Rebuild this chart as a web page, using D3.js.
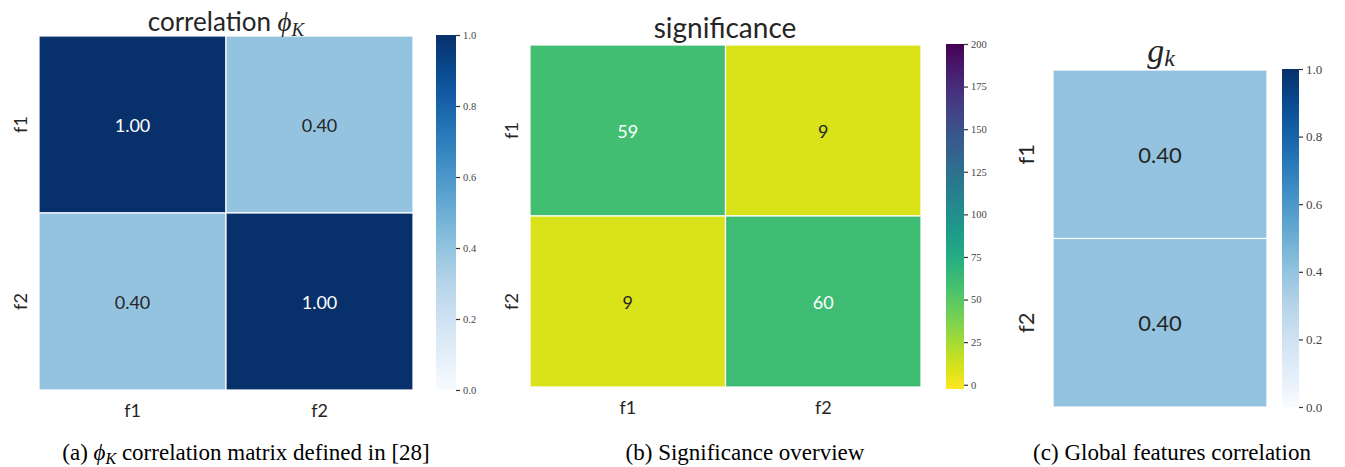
<!DOCTYPE html>
<html><head><meta charset="utf-8">
<script src="https://cdn.jsdelivr.net/npm/d3@7"></script>
<style>body{margin:0;background:#fff}</style>
</head><body>
<svg id="c" width="1345" height="467"></svg>
<script>
const features = ["f1", "f2"];
const phikValues = [[1.00, 0.40], [0.40, 1.00]];
const sigValues = [[59, 9], [9, 60]];
const gkValues = [[0.40], [0.40]];
const blueTicks = [0.0, 0.2, 0.4, 0.6, 0.8, 1.0];
const sigTicks = [0, 25, 50, 75, 100, 125, 150, 175, 200];
const phikLabels = ["1.00", "0.40", "0.40", "1.00"];
const sigLabels = ["59", "9", "9", "60"];
const gkLabels = ["0.40", "0.40"];

const svg = d3.select("#c");
const sans = "Lato, 'Open Sans', sans-serif";
const serif = "'Liberation Serif', 'DejaVu Serif', serif";

function heatmap(opt) {
  const g = svg.append("g");
  const x = d3.scaleBand().domain(opt.cols).range([opt.x0, opt.x1]);
  const y = d3.scaleBand().domain(features).range([opt.y0, opt.y1]);
  const cells = [];
  opt.values.forEach((row, i) => row.forEach((v, j) => cells.push({r: features[i], c: opt.cols[j], v, lab: opt.labels[cells.length]})));
  g.selectAll("rect").data(cells).join("rect")
    .attr("x", d => x(d.c)).attr("y", d => y(d.r))
    .attr("width", x.bandwidth()).attr("height", y.bandwidth())
    .attr("fill", d => opt.color(d.v)).attr("stroke", "#fff").attr("stroke-width", 1.2);
  g.selectAll("text.v").data(cells).join("text").attr("class", "v")
    .attr("x", d => x(d.c) + x.bandwidth() / 2).attr("y", d => y(d.r) + y.bandwidth() / 2)
    .attr("text-anchor", "middle").attr("dominant-baseline", "central")
    .attr("font-family", sans).attr("font-size", opt.fs)
    .attr("fill", d => opt.dark(d.v) ? "#fff" : "#262626").text(d => d.lab);
  g.selectAll("text.yl").data(features).join("text").attr("class", "yl")
    .attr("transform", d => `translate(${opt.ylx},${y(d) + y.bandwidth() / 2}) rotate(-90)`)
    .attr("text-anchor", "middle").attr("dominant-baseline", "central")
    .attr("font-family", sans).attr("font-size", opt.tfs).attr("fill", "#262626").text(d => d);
  if (opt.bottom) {
    g.selectAll("text.xl").data(opt.cols).join("text").attr("class", "xl")
      .attr("x", d => x(d) + x.bandwidth() / 2).attr("y", opt.y1 + 20)
      .attr("text-anchor", "middle").attr("dominant-baseline", "central")
      .attr("font-family", sans).attr("font-size", opt.tfs).attr("fill", "#262626").text(d => d);
  }
}

function colorbar(opt) {
  const id = "grad" + opt.id;
  const defs = svg.append("defs");
  const lg = defs.append("linearGradient").attr("id", id).attr("x1", 0).attr("y1", 1).attr("x2", 0).attr("y2", 0);
  d3.range(0, 1.0001, 0.05).forEach(t => {
    lg.append("stop").attr("offset", t).attr("stop-color", opt.color(opt.domain[0] + t * (opt.domain[1] - opt.domain[0])));
  });
  svg.append("rect").attr("x", opt.x).attr("y", opt.y0).attr("width", opt.w).attr("height", opt.y1 - opt.y0).attr("fill", `url(#${id})`);
  const s = d3.scaleLinear().domain(opt.domain).range([opt.y1, opt.y0]);
  const ax = svg.append("g").attr("transform", `translate(${opt.x + opt.w},0)`)
    .call(d3.axisRight(s).tickValues(opt.ticks).tickFormat(opt.fmt).tickSize(4).tickPadding(3));
  ax.select(".domain").remove();
  ax.selectAll("line").attr("stroke", "#333").attr("stroke-width", 1.2);
  ax.selectAll("text").attr("font-family", serif).attr("font-size", opt.fs).attr("fill", "#444");
}

const blues = v => d3.interpolateBlues(v);
const vir = d3.scaleSequential(t => d3.interpolateViridis(1 - t)).domain([-2.5, 200]);

heatmap({cols: features, values: phikValues, labels: phikLabels, x0: 39, x1: 413, y0: 36, y1: 390,
  color: blues, dark: v => v > 0.6, fs: 18, tfs: 18, ylx: 20, bottom: true});
colorbar({id: "a", x: 436, w: 20, y0: 35, y1: 390, domain: [0, 1], ticks: blueTicks, fmt: d3.format(".1f"), color: blues, fs: 10.5});
heatmap({cols: features, values: sigValues, labels: sigLabels, x0: 530, x1: 921, y0: 45, y1: 387,
  color: vir, dark: v => v > 30, fs: 18, tfs: 18, ylx: 511, bottom: true});
colorbar({id: "b", x: 946, w: 18, y0: 44, y1: 389, domain: [-2.5, 200], ticks: sigTicks, fmt: d3.format("d"), color: vir, fs: 10.5});
heatmap({cols: ["g"], values: gkValues, labels: gkLabels, x0: 1053, x1: 1267, y0: 70, y1: 407,
  color: blues, dark: v => v > 0.6, fs: 22, tfs: 22, ylx: 1025, bottom: false});
colorbar({id: "c", x: 1282, w: 17, y0: 69, y1: 407, domain: [0, 1], ticks: blueTicks, fmt: d3.format(".1f"), color: blues, fs: 13});

const t1 = svg.append("text").attr("x", 226).attr("y", 31).attr("text-anchor", "middle").attr("fill", "#262626");
t1.append("tspan").attr("font-family", sans).attr("font-size", 26).text("correlation  ");
t1.append("tspan").attr("font-family", serif).attr("font-style", "italic").attr("font-size", 27).text("ϕ");
t1.append("tspan").attr("font-family", serif).attr("font-style", "italic").attr("font-size", 19).attr("dy", 5).text("K");

svg.append("text").attr("x", 725).attr("y", 38).attr("text-anchor", "middle").attr("fill", "#262626")
  .attr("font-family", sans).attr("font-size", 28).text("significance");

const t3 = svg.append("text").attr("x", 1161).attr("y", 62).attr("text-anchor", "middle").attr("fill", "#262626");
t3.append("tspan").attr("font-family", serif).attr("font-style", "italic").attr("font-size", 34).text("g");
t3.append("tspan").attr("font-family", serif).attr("font-style", "italic").attr("font-size", 24).attr("dy", 4).text("k");

const capFs = 23;
const c1 = svg.append("text").attr("x", 246).attr("y", 460).attr("text-anchor", "middle")
  .attr("font-family", serif).attr("font-size", capFs).attr("fill", "#000");
c1.append("tspan").text("(a) ");
c1.append("tspan").attr("font-style", "italic").text("ϕ");
c1.append("tspan").attr("font-style", "italic").attr("font-size", 16).attr("dy", 4).text("K");
c1.append("tspan").attr("dy", -4).text(" correlation matrix defined in [28]");
svg.append("text").attr("x", 745).attr("y", 460).attr("text-anchor", "middle")
  .attr("font-family", serif).attr("font-size", capFs).attr("fill", "#000").text("(b) Significance overview");
svg.append("text").attr("x", 1172).attr("y", 460).attr("text-anchor", "middle")
  .attr("font-family", serif).attr("font-size", capFs).attr("fill", "#000").text("(c) Global features correlation");
</script>
</body></html>
